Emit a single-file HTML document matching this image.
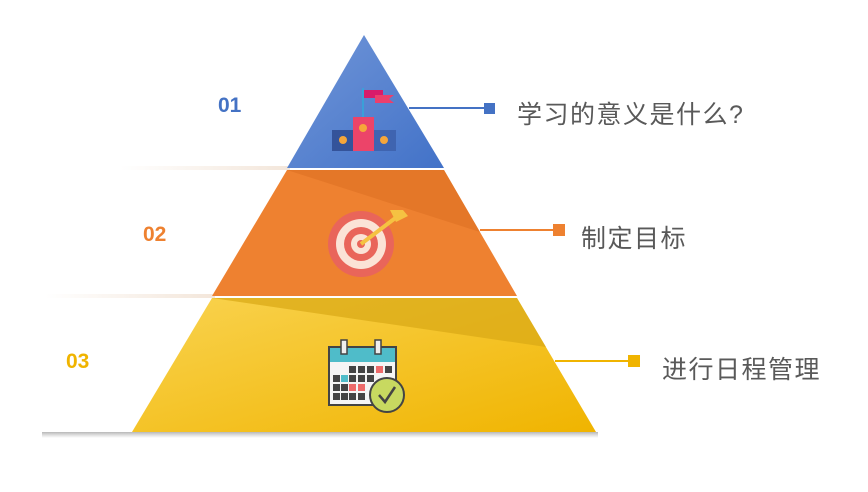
<!DOCTYPE html>
<html><head><meta charset="utf-8"><style>
body{margin:0;background:#fff;width:868px;height:492px;overflow:hidden;font-family:"Liberation Sans","Noto Sans CJK SC",sans-serif}
.t{position:absolute;font-size:25px;letter-spacing:1.5px;color:#595959;white-space:nowrap}
.n{position:absolute;font-size:21px;font-weight:bold}
</style></head><body>
<svg width="868" height="492" style="position:absolute;left:0;top:0">
<defs>
<linearGradient id="gb" x1="0" y1="0" x2="1" y2="1"><stop offset="0" stop-color="#7196d8"/><stop offset="1" stop-color="#4272c8"/></linearGradient>
<linearGradient id="gy" x1="0" y1="0" x2="1" y2="1"><stop offset="0" stop-color="#f9d350"/><stop offset="1" stop-color="#f0b400"/></linearGradient>
<linearGradient id="sh" x1="0" y1="0" x2="0" y2="1"><stop offset="0" stop-color="#888" stop-opacity=".6"/><stop offset="1" stop-color="#999" stop-opacity="0"/></linearGradient>
<linearGradient id="shl" x1="1" y1="0" x2="0" y2="0"><stop offset="0" stop-color="#f3e6da"/><stop offset="1" stop-color="#fff"/></linearGradient>
</defs>
<rect x="120" y="166" width="170" height="4" fill="url(#shl)"/>
<rect x="45" y="294" width="170" height="4" fill="url(#shl)"/>
<rect x="42" y="432" width="556" height="6" fill="url(#sh)"/>
<polygon points="364,35 444,168 287,168" fill="url(#gb)"/>
<polygon points="287,170 444,170 517,296 212,296" fill="#ee8130"/>
<polygon points="287,170 444,170 480,232" fill="#e17427" opacity=".8"/>
<polygon points="212,298 517,298 596,432 132,432" fill="url(#gy)"/>
<polygon points="212,298 517,298 546,347" fill="#d9a816" opacity=".7"/>
<line x1="409" y1="108" x2="484" y2="108" stroke="#4472c4" stroke-width="2"/>
<rect x="484" y="103" width="11" height="11" fill="#4472c4"/>
<line x1="480" y1="230" x2="553" y2="230" stroke="#ee8130" stroke-width="2"/>
<rect x="553" y="224" width="12" height="12" fill="#ee8130"/>
<line x1="555" y1="361" x2="628" y2="361" stroke="#f0b400" stroke-width="2"/>
<rect x="628" y="355" width="12" height="12" fill="#f0b400"/>
<line x1="363" y1="88" x2="363" y2="118" stroke="#3aa0d8" stroke-width="2"/>
<rect x="364" y="90" width="19" height="8" fill="#d81b6a"/>
<polygon points="375,95 394,95 389,99 394,103 375,103" fill="#ec3f6c"/>
<rect x="332" y="130" width="22" height="21" fill="#34539a"/>
<rect x="374" y="130" width="22" height="21" fill="#3f64b0"/>
<rect x="353" y="117" width="21" height="34" fill="#ec4469"/>
<circle cx="343" cy="140" r="4" fill="#f6a63a"/><circle cx="363" cy="128" r="4" fill="#f6a63a"/><circle cx="384" cy="140" r="4" fill="#f6a63a"/>
<circle cx="361" cy="244" r="33" fill="#e9655a"/>
<circle cx="361" cy="244" r="25" fill="#fbe3d6"/>
<circle cx="361" cy="244" r="17" fill="#e9655a"/>
<circle cx="361" cy="244" r="10" fill="#fbe3d6"/>
<circle cx="361" cy="244" r="4" fill="#e9655a"/>
<line x1="361" y1="244" x2="398" y2="216" stroke="#f5c242" stroke-width="4"/>
<polygon points="390,210 403,210 408,216 396,222" fill="#f5c242"/>
<rect x="329" y="347" width="67" height="58" fill="#f5f5f5" stroke="#444" stroke-width="2"/>
<rect x="330" y="348" width="65" height="14" fill="#4fbcc9"/>
<rect x="341" y="340" width="6" height="14" fill="#eee" stroke="#444" stroke-width="1.5"/>
<rect x="375" y="340" width="6" height="14" fill="#eee" stroke="#444" stroke-width="1.5"/>
<g fill="#444">
<rect x="349" y="366" width="7" height="7"/><rect x="358" y="366" width="7" height="7"/><rect x="367" y="366" width="7" height="7"/><rect x="385" y="366" width="7" height="7"/>
<rect x="333" y="375" width="7" height="7"/><rect x="349" y="375" width="7" height="7"/><rect x="358" y="375" width="7" height="7"/><rect x="367" y="375" width="7" height="7"/>
<rect x="333" y="384" width="7" height="7"/><rect x="341" y="384" width="7" height="7"/>
<rect x="333" y="393" width="7" height="7"/><rect x="341" y="393" width="7" height="7"/><rect x="349" y="393" width="7" height="7"/><rect x="358" y="393" width="7" height="7"/>
</g>
<rect x="376" y="366" width="7" height="7" fill="#ee6b6b"/><rect x="341" y="375" width="7" height="7" fill="#4fbcc9"/>
<rect x="349" y="384" width="7" height="7" fill="#ee6b6b"/><rect x="358" y="384" width="7" height="7" fill="#ee6b6b"/>
<circle cx="387" cy="395" r="17" fill="#c8d960" stroke="#444" stroke-width="2"/>
<polyline points="379,395 385,402 395,387" fill="none" stroke="#444" stroke-width="2.5"/>
</svg>
<div class="n" style="left:218px;top:94px;color:#4472c4">01</div>
<div class="n" style="left:143px;top:223px;color:#ee8130">02</div>
<div class="n" style="left:66px;top:350px;color:#f0b400">03</div>
<div class="t" style="left:517px;top:95px">学习的意义是什么?</div>
<div class="t" style="left:581px;top:219px">制定目标</div>
<div class="t" style="left:662px;top:350px">进行日程管理</div>
</body></html>
